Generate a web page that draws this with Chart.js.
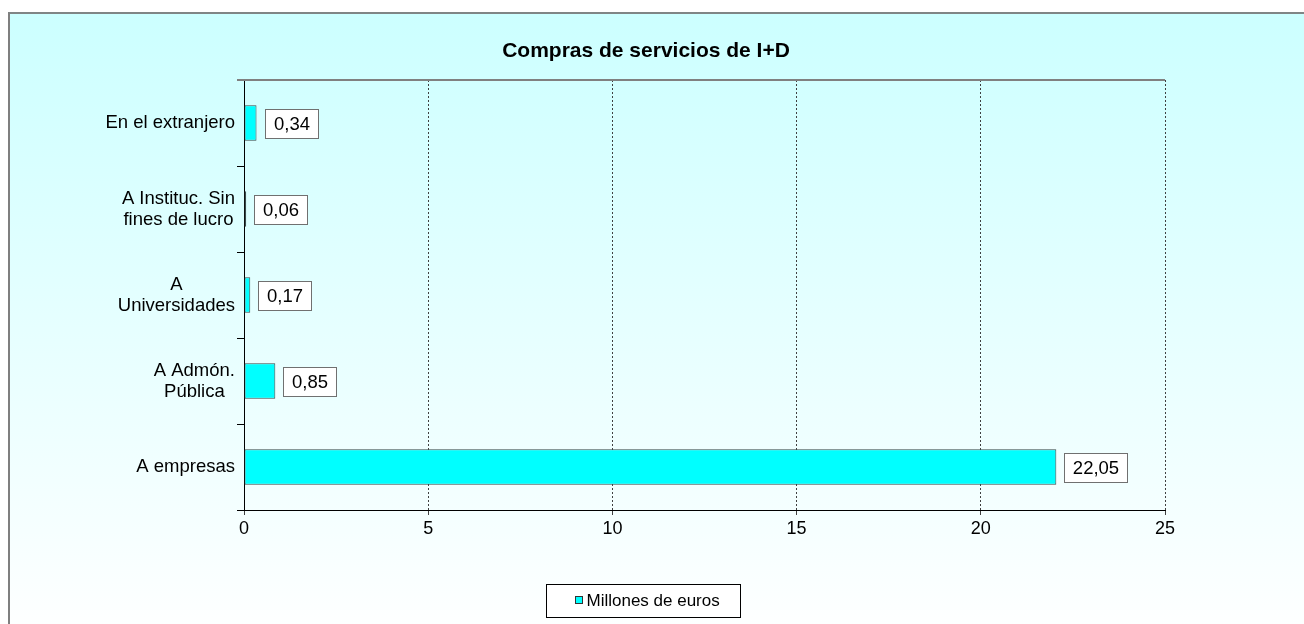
<!DOCTYPE html>
<html>
<head>
<meta charset="utf-8">
<script src="https://cdn.jsdelivr.net/npm/chart.js@4"></script>
<style>
  html, body { margin: 0; padding: 0; background: #ffffff; width: 1304px; height: 624px; overflow: hidden; }
  #frame {
    position: absolute; left: 8px; top: 12px; width: 1310px; height: 630px;
    border-left: 2px solid #7f7f7f; border-top: 2px solid #7f8585;
    background: linear-gradient(to bottom, #ccffff 0%, #e6ffff 50%, #ffffff 100%);
  }
  #chart { position: absolute; left: 0; top: 0; }
</style>
</head>
<body>
<div id="frame"></div>
<canvas id="chart" width="1304" height="624"></canvas>
<script>
// categories, top to bottom
const categories = [
    ["En el extranjero"],
    ["A Instituc. Sin", "fines de lucro"],
    ["A", "Universidades"],
    ["A Admón.", "Pública"],
    ["A empresas"]
];
const values = [0.34, 0.06, 0.17, 0.85, 22.05];
const seriesName = "Millones de euros";
const chartTitle = "Compras de servicios de I+D";
const xTicks = [0, 5, 10, 15, 20, 25];

const FONT = "'Liberation Sans', Arial, sans-serif";

function formatValue(v) {
    return v.toFixed(2).replace(".", ",");
}

// title, centred on the page rather than on the chart box
const titlePlugin = {
    id: "titlePlugin",
    afterDraw(chart) {
        const ctx = chart.ctx;
        ctx.save();
        ctx.font = "bold 21px " + FONT;
        ctx.fillStyle = "#000";
        ctx.textAlign = "center";
        ctx.textBaseline = "middle";
        ctx.fillText(chartTitle, 646, 51);
        ctx.restore();
    }
};

// category labels: lines centered, block pushed against the axis
const categoryLabels = {
    id: "categoryLabels",
    afterDraw(chart) {
        const ctx = chart.ctx;
        const yScale = chart.scales.y;
        ctx.save();
        ctx.font = "18.5px " + FONT;
        ctx.fillStyle = "#000";
        ctx.textAlign = "center";
        ctx.textBaseline = "middle";
        const lineH = 21;
        categories.forEach((lines, i) => {
            const y = yScale.getPixelForTick(i);
            const w = Math.max(...lines.map(l => ctx.measureText(l).width));
            const cx = yScale.right - 9 - w / 2;
            lines.forEach((line, j) => {
                ctx.fillText(line, cx, y + (j - (lines.length - 1) / 2) * lineH);
            });
        });
        ctx.restore();
    }
};

// boxed value labels right of the bars
const valueBoxes = {
    id: "valueBoxes",
    afterDatasetsDraw(chart) {
        const ctx = chart.ctx;
        const meta = chart.getDatasetMeta(0);
        ctx.save();
        ctx.font = "18.5px " + FONT;
        ctx.textBaseline = "middle";
        ctx.textAlign = "center";
        meta.data.forEach((bar, i) => {
            const txt = formatValue(values[i]);
            const w = Math.round(ctx.measureText(txt).width + 17);
            const h = 29;
            const x = Math.round(bar.x + 8) + 0.5;
            const y = Math.round(bar.y - h / 2) + 0.5;
            ctx.fillStyle = "#ffffff";
            ctx.fillRect(x, y, w, h);
            ctx.strokeStyle = "#707070";
            ctx.lineWidth = 1;
            ctx.strokeRect(x, y, w, h);
            ctx.fillStyle = "#000";
            ctx.fillText(txt, x + w / 2, y + h / 2 + 1);
        });
        ctx.restore();
    }
};

// plot top border and boxed legend
const frameAndLegend = {
    id: "frameAndLegend",
    afterDraw(chart) {
        const ctx = chart.ctx;
        const a = chart.chartArea;
        ctx.save();
        ctx.strokeStyle = "#808080";
        ctx.lineWidth = 2;
        ctx.beginPath();
        ctx.moveTo(a.left - 7, a.top);
        ctx.lineTo(a.right, a.top);
        ctx.stroke();

        // legend
        const ds = chart.data.datasets[0];
        ctx.font = "17px " + FONT;
        const tw = ctx.measureText(ds.label).width;
        const boxW = Math.round(tw + 61), boxH = 33;
        const bx = Math.round(643 - boxW / 2) + 0.5;
        const by = 584.5;
        ctx.fillStyle = "#ffffff";
        ctx.fillRect(bx, by, boxW, boxH);
        ctx.lineWidth = 1;
        ctx.strokeStyle = "#000000";
        ctx.strokeRect(bx, by, boxW, boxH);
        const sx = bx + 29;
        ctx.fillStyle = ds.backgroundColor;
        ctx.fillRect(sx, 596.5, 7, 7);
        ctx.strokeStyle = "#333";
        ctx.strokeRect(sx, 596.5, 7, 7);
        ctx.fillStyle = "#000";
        ctx.textBaseline = "middle";
        ctx.textAlign = "left";
        ctx.fillText(ds.label, sx + 11, 601);
        ctx.restore();
    }
};

new Chart(document.getElementById("chart"), {
    type: "bar",
    data: {
        labels: categories.map(c => c.join(" ")),
        datasets: [{
            label: seriesName,
            data: values,
            backgroundColor: "#00ffff",
            borderColor: "#3a4a4a",
            borderWidth: 1,
            borderSkipped: false,
            barPercentage: 0.82,
            categoryPercentage: 0.5
        }]
    },
    options: {
        indexAxis: "y",
        responsive: false,
        animation: false,
        layout: { padding: { left: 0, right: 139, top: 80, bottom: 74 } },
        plugins: {
            legend: { display: false },
            tooltip: { enabled: false },
            title: { display: false }
        },
        scales: {
            x: {
                min: 0,
                max: 25,
                afterBuildTicks(scale) {
                    scale.ticks = xTicks.map(v => ({ value: v }));
                },
                afterFit(scale) { scale.height = 40; },
                ticks: {
                    color: "#000",
                    font: { family: FONT, size: 18 },
                    padding: 3
                },
                grid: {
                    color: "#404040",
                    lineWidth: 1,
                    tickLength: 5
                },
                border: { color: "#000", width: 1, dash: [2, 2] }
            },
            y: {
                offset: true,
                afterFit(scale) { scale.width = 244; },
                ticks: { display: false },
                grid: {
                    drawOnChartArea: false,
                    drawTicks: true,
                    tickLength: 7,
                    color: "#000",
                    offset: true
                },
                border: { color: "#000", width: 1 }
            }
        }
    },
    plugins: [titlePlugin, categoryLabels, valueBoxes, frameAndLegend]
});
</script>
</body>
</html>
